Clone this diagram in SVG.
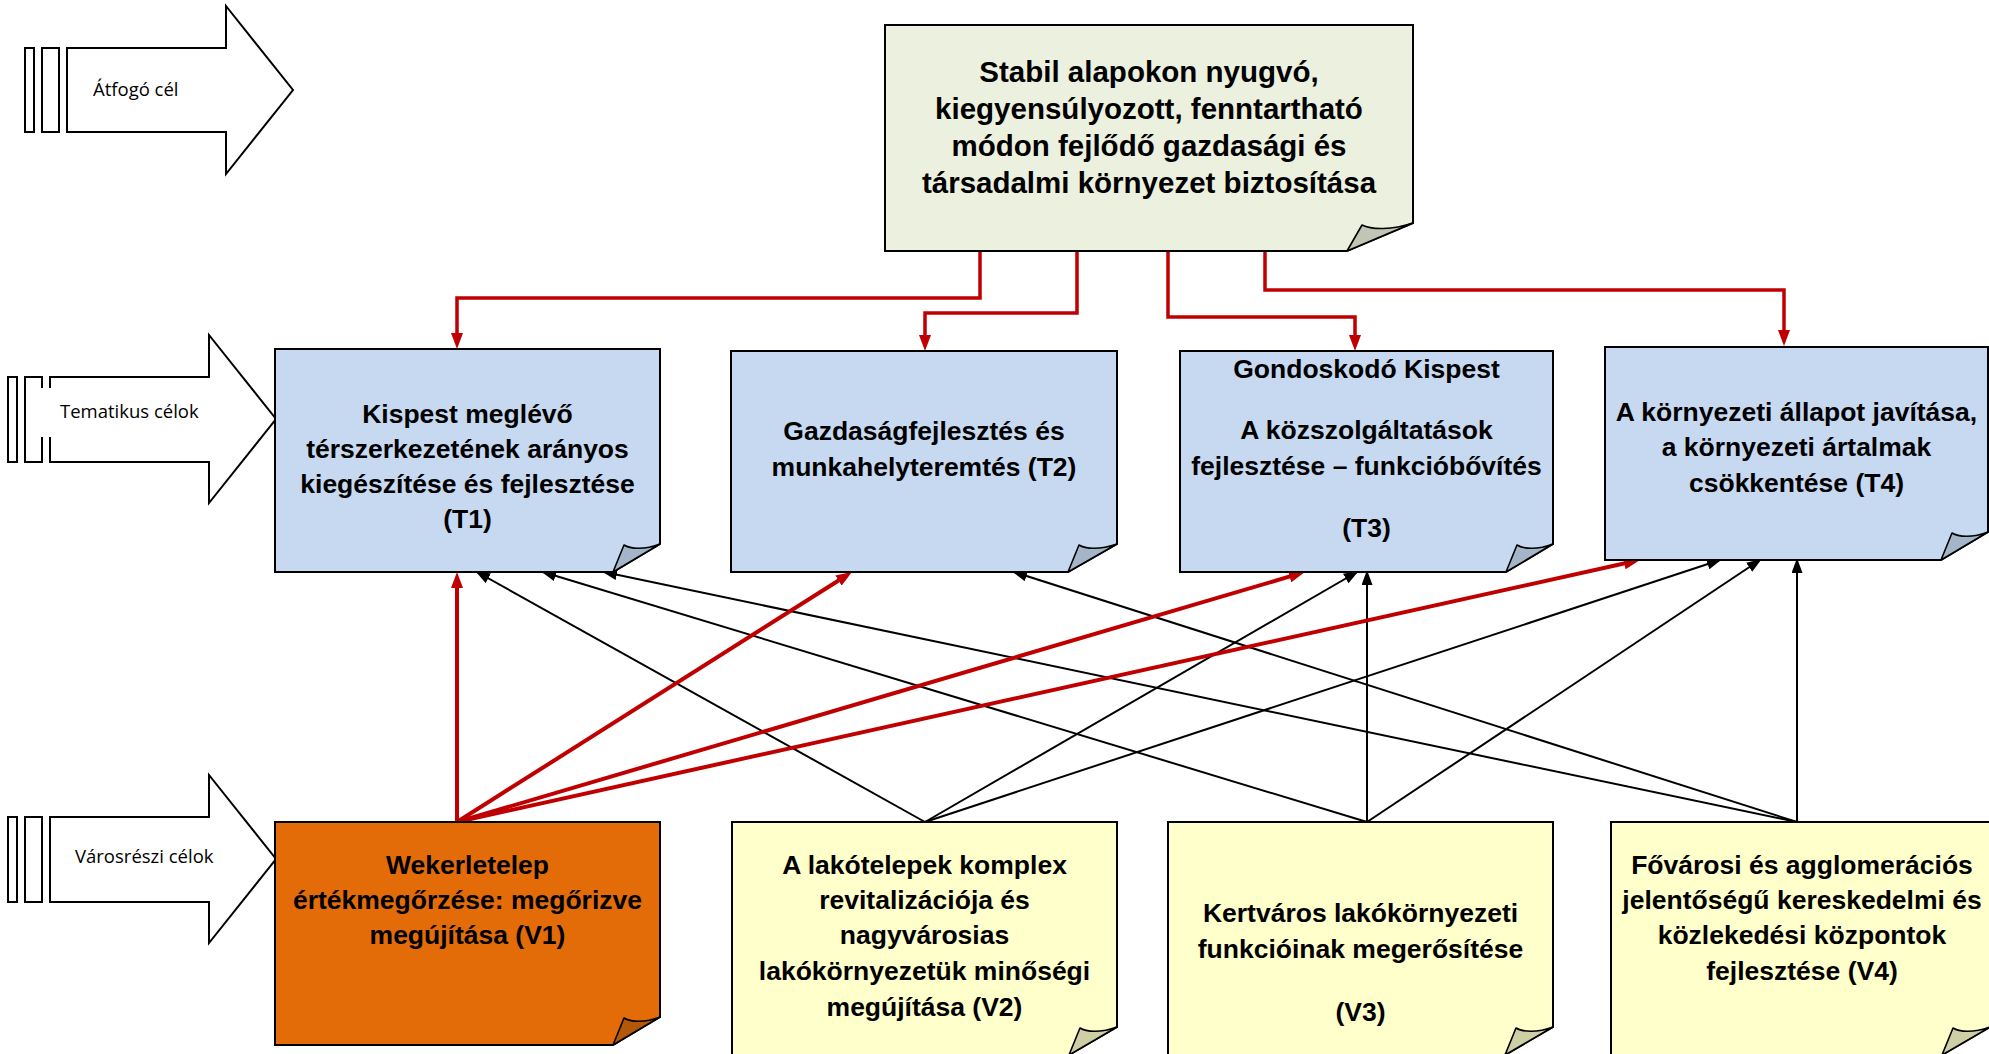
<svg xmlns="http://www.w3.org/2000/svg" width="1989" height="1054" viewBox="0 0 1989 1054">
<defs>
<style>
.box{stroke:#000;stroke-width:2;stroke-linejoin:miter}
.fold{stroke:#000;stroke-width:1.6;stroke-linejoin:round}
.blue{fill:#C6D9F1}.bluef{fill:#A5B5C9}
.green{fill:#EBF1DE}.greenf{fill:#C0C5B5}
.yel{fill:#FFFFCC}.yelf{fill:#CFCFA6}
.org{fill:#E36C09}.orgf{fill:#B35709}
.t{font-family:"Liberation Sans",Arial,sans-serif;font-weight:bold;font-size:26.5px;text-anchor:middle;fill:#000}
.tt{font-family:"Liberation Sans",Arial,sans-serif;font-weight:bold;font-size:29.5px;text-anchor:middle;fill:#000}
.lbl{font-family:"Open Sans","Liberation Sans",sans-serif;font-size:18.5px;fill:#000}
.sa{fill:#fff;stroke:#000;stroke-width:2}
.red{fill:none;stroke:#C00000;stroke-width:4}
.redo{fill:none;stroke:#C00000;stroke-width:3.5}
.blk{fill:none;stroke:#000;stroke-width:2}
</style>
<marker id="ar" viewBox="0 0 16 12" refX="10" refY="6" markerWidth="16" markerHeight="12" markerUnits="userSpaceOnUse" orient="auto">
<path d="M0,0 L16,6 L0,12 z" fill="#C00000"/>
</marker>
<marker id="ab" viewBox="0 0 15 11" refX="13" refY="5.5" markerWidth="15" markerHeight="11" markerUnits="userSpaceOnUse" orient="auto">
<path d="M0,0 L15,5.5 L0,11 z" fill="#000"/>
</marker>
</defs>

<g id="level-arrows">
<g id="arrow-atfogo">
<rect class="sa" x="25" y="48" width="9" height="84"/>
<rect class="sa" x="42" y="48" width="17" height="84"/>
<polygon class="sa" points="67,48 226,48 226,6 293,90 226,174 226,132 67,132"/>
<text class="lbl" x="93" y="96">Átfogó cél</text>
</g>
<g id="arrow-tematikus">
<rect class="sa" x="8" y="377" width="9" height="85"/>
<rect class="sa" x="25" y="377" width="17" height="85"/>
<polygon class="sa" points="50,377 209,377 209,335 276,419 209,503 209,462 50,462"/>
<rect x="41" y="388" width="11" height="49" fill="#fff"/>
<text class="lbl" x="60" y="418">Tematikus célok</text>
</g>
<g id="arrow-varosreszi">
<rect class="sa" x="8" y="817" width="9" height="85"/>
<rect class="sa" x="25" y="817" width="17" height="85"/>
<polygon class="sa" points="50,817 209,817 209,775 276,859 209,943 209,902 50,902"/>
<text class="lbl" x="75" y="863">Városrészi célok</text>
</g>
</g>

<g id="connectors">
<path class="redo" d="M980,251 V298 H457 V343" marker-end="url(#ar)"/>
<path class="redo" d="M1077,251 V313 H925 V345" marker-end="url(#ar)"/>
<path class="redo" d="M1168,251 V317 H1355 V345" marker-end="url(#ar)"/>
<path class="redo" d="M1265,251 V290 H1784 V340" marker-end="url(#ar)"/>

<path class="blk" d="M925,822 L477,572" marker-end="url(#ab)"/>
<path class="blk" d="M925,822 L1357,572" marker-end="url(#ab)"/>
<path class="blk" d="M925,822 L1720,560" marker-end="url(#ab)"/>
<path class="blk" d="M1367,822 L543,572" marker-end="url(#ab)"/>
<path class="blk" d="M1367,822 L1367,572" marker-end="url(#ab)"/>
<path class="blk" d="M1367,822 L1760,560" marker-end="url(#ab)"/>
<path class="blk" d="M1797,822 L604,572" marker-end="url(#ab)"/>
<path class="blk" d="M1797,822 L1014,572" marker-end="url(#ab)"/>
<path class="blk" d="M1797,822 L1797,560" marker-end="url(#ab)"/>

<path class="red" d="M457,822 L457,578" marker-end="url(#ar)"/>
<path class="red" d="M457,822 L846.9,575.2" marker-end="url(#ar)"/>
<path class="red" d="M457,822 L1299.2,573.7" marker-end="url(#ar)"/>
<path class="red" d="M457,822 L1634.1,561.3" marker-end="url(#ar)"/>
</g>

<g id="node-top">
<path class="box green" d="M885,25 H1413 V223 L1347,251 H885 Z"/>
<path class="fold greenf" d="M1347,251 L1362,225 C1372,230 1392,230 1413,223 Z"/>
<text class="tt" x="1149" y="82">Stabil alapokon nyugvó,</text>
<text class="tt" x="1149" y="119">kiegyensúlyozott, fenntartható</text>
<text class="tt" x="1149" y="156">módon fejlődő gazdasági és</text>
<text class="tt" x="1149" y="193">társadalmi környezet biztosítása</text>
</g>

<g id="node-t1">
<path class="box blue" d="M275,349 H660 V544 L613,572 H275 Z"/>
<path class="fold bluef" d="M613,572 L624,545 C630,549 645,550 660,544 Z"/>
<text class="t" x="467.5" y="423">Kispest meglévő</text>
<text class="t" x="467.5" y="458">térszerkezetének arányos</text>
<text class="t" x="467.5" y="493">kiegészítése és fejlesztése</text>
<text class="t" x="467.5" y="528">(T1)</text>
</g>

<g id="node-t2">
<path class="box blue" d="M731,351 H1117 V544 L1068,572 H731 Z"/>
<path class="fold bluef" d="M1068,572 L1079,545 C1085,549 1100,550 1117,544 Z"/>
<text class="t" x="924" y="440">Gazdaságfejlesztés és</text>
<text class="t" x="924" y="476">munkahelyteremtés (T2)</text>
</g>

<g id="node-t3">
<path class="box blue" d="M1180,351 H1553 V544 L1506,572 H1180 Z"/>
<path class="fold bluef" d="M1506,572 L1517,545 C1523,549 1538,550 1553,544 Z"/>
<text class="t" x="1366.5" y="378">Gondoskodó Kispest</text>
<text class="t" x="1366.5" y="439">A közszolgáltatások</text>
<text class="t" x="1366.5" y="475">fejlesztése – funkcióbővítés</text>
<text class="t" x="1366.5" y="537">(T3)</text>
</g>

<g id="node-t4">
<path class="box blue" d="M1605,347 H1988 V532 L1941,560 H1605 Z"/>
<path class="fold bluef" d="M1941,560 L1952,533 C1958,537 1973,538 1988,532 Z"/>
<text class="t" x="1796.5" y="421">A környezeti állapot javítása,</text>
<text class="t" x="1796.5" y="456">a környezeti ártalmak</text>
<text class="t" x="1796.5" y="492">csökkentése (T4)</text>
</g>

<g id="node-v1">
<path class="box org" d="M275,822 H660 V1017 L613,1045 H275 Z"/>
<path class="fold orgf" d="M613,1045 L624,1018 C630,1022 645,1023 660,1017 Z"/>
<text class="t" x="467.5" y="874">Wekerletelep</text>
<text class="t" x="467.5" y="909">értékmegőrzése: megőrizve</text>
<text class="t" x="467.5" y="944">megújítása (V1)</text>
</g>

<g id="node-v2">
<path class="box yel" d="M732,822 H1117 V1027 L1069,1055 H732 Z"/>
<path class="fold yelf" d="M1069,1055 L1080,1028 C1086,1032 1101,1033 1117,1027 Z"/>
<text class="t" x="924.5" y="874">A lakótelepek komplex</text>
<text class="t" x="924.5" y="909">revitalizációja és</text>
<text class="t" x="924.5" y="944">nagyvárosias</text>
<text class="t" x="924.5" y="980">lakókörnyezetük minőségi</text>
<text class="t" x="924.5" y="1016">megújítása (V2)</text>
</g>

<g id="node-v3">
<path class="box yel" d="M1168,822 H1553 V1027 L1505,1055 H1168 Z"/>
<path class="fold yelf" d="M1505,1055 L1516,1028 C1522,1032 1537,1033 1553,1027 Z"/>
<text class="t" x="1360.5" y="922">Kertváros lakókörnyezeti</text>
<text class="t" x="1360.5" y="958">funkcióinak megerősítése</text>
<text class="t" x="1360.5" y="1021">(V3)</text>
</g>

<g id="node-v4">
<path class="box yel" d="M1611,822 H1990 V1027 L1942,1055 H1611 Z"/>
<path class="fold yelf" d="M1942,1055 L1953,1028 C1959,1032 1974,1033 1990,1027 Z"/>
<text class="t" x="1802" y="874">Fővárosi és agglomerációs</text>
<text class="t" x="1802" y="909">jelentőségű kereskedelmi és</text>
<text class="t" x="1802" y="944">közlekedési központok</text>
<text class="t" x="1802" y="980">fejlesztése (V4)</text>
</g>
</svg>
